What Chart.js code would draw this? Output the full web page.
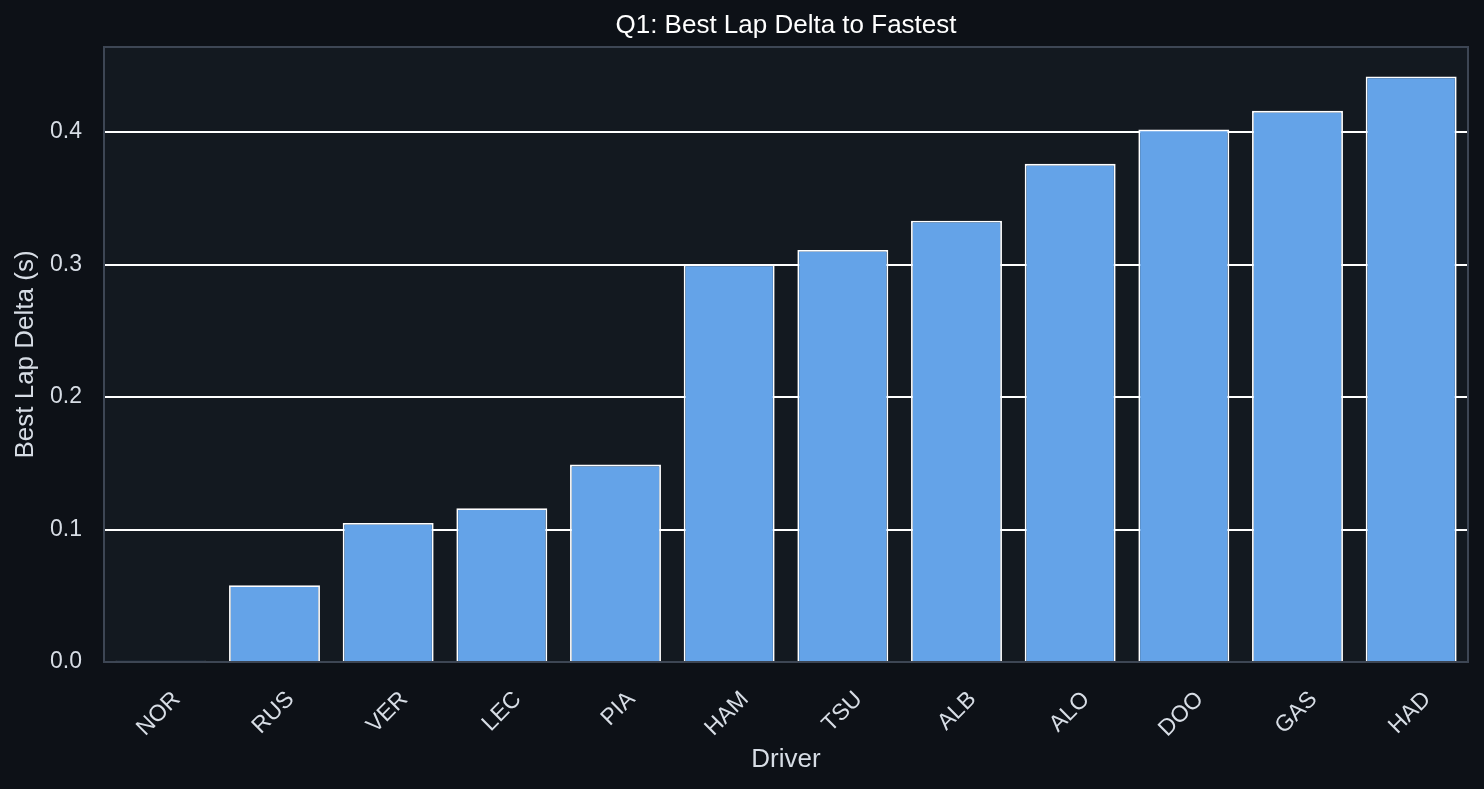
<!DOCTYPE html>
<html><head><meta charset="utf-8">
<script src="https://cdn.jsdelivr.net/npm/chart.js@4"></script>
<style>html,body{margin:0;padding:0;background:#0d1117;}#w{width:1484px;height:789px;}</style>
</head><body><div id="w"><canvas id="c"></canvas></div>
<script>
const drivers = ['NOR','RUS','VER','LEC','PIA','HAM','TSU','ALB','ALO','DOO','GAS','HAD'];
const deltas = [0.001, 0.058, 0.105, 0.116, 0.149, 0.300, 0.311, 0.333, 0.376, 0.402, 0.416, 0.442];
const yTicks = [0.0, 0.1, 0.2, 0.3, 0.4];

const FONT = '"Liberation Sans", Arial, sans-serif';
const bgPlugin = {
  id: 'bgPlugin',
  beforeDraw(chart) {
    const {ctx, chartArea: a} = chart;
    ctx.save();
    ctx.fillStyle = '#0d1117';
    ctx.fillRect(0, 0, chart.width, chart.height);
    ctx.fillStyle = '#131920';
    ctx.fillRect(a.left, a.top, a.right - a.left, a.bottom - a.top);
    ctx.restore();
  },
  afterDatasetsDraw(chart) {
    const {ctx, chartArea: a} = chart;
    ctx.save();
    ctx.strokeStyle = '#3d4654';
    ctx.lineWidth = 2;
    ctx.strokeRect(a.left, a.top, a.right - a.left, a.bottom - a.top);
    ctx.restore();
  }
};

new Chart(document.getElementById('c'), {
  type: 'bar',
  data: {
    labels: drivers,
    datasets: [{
      data: deltas,
      backgroundColor: '#64a3e8',
      borderColor: '#ffffff',
      borderWidth: 1.8,
      barPercentage: 0.8,
      categoryPercentage: 1.0
    }]
  },
  options: {
    responsive: true,
    maintainAspectRatio: false,
    animation: false,
    devicePixelRatio: 1,
    layout: { padding: { left: 0, right: 16, top: 0, bottom: 0 } },
    plugins: {
      legend: { display: false },
      tooltip: { enabled: false },
      title: {
        display: true,
        fullSize: false,
        text: 'Q1: Best Lap Delta to Fastest',
        color: '#ffffff',
        font: { family: FONT, size: 26, weight: 'normal' },
        padding: { top: 10.4, bottom: 5.4 }
      }
    },
    scales: {
      x: {
        grid: { display: false, drawTicks: false },
        border: { display: false },
        ticks: {
          color: '#d7dde5',
          font: { family: FONT, size: 23 },
          maxRotation: 45, minRotation: 45,
          labelOffset: 16,
          padding: 24
        },
        title: {
          display: true, text: 'Driver', color: '#d7dde5',
          font: { family: FONT, size: 26 },
          padding: { top: 0, bottom: 13.4 }
        },
        afterFit(s) { s.height = 127; }
      },
      y: {
        min: 0, max: 0.4642,
        grid: { color: '#ffffff', lineWidth: 2, drawTicks: false },
        border: { display: false },
        afterBuildTicks(s) { s.ticks = yTicks.map(v => ({ value: v })); },
        ticks: {
          color: '#d7dde5',
          font: { family: FONT, size: 23 },
          padding: 22,
          callback: v => Number(v).toFixed(1)
        },
        title: {
          display: true, text: 'Best Lap Delta (s)', color: '#d7dde5',
          font: { family: FONT, size: 26 },
          padding: { top: 10, bottom: 0 }
        },
        afterFit(s) { s.width = 104; }
      }
    }
  },
  plugins: [bgPlugin]
});
</script>
</body></html>
